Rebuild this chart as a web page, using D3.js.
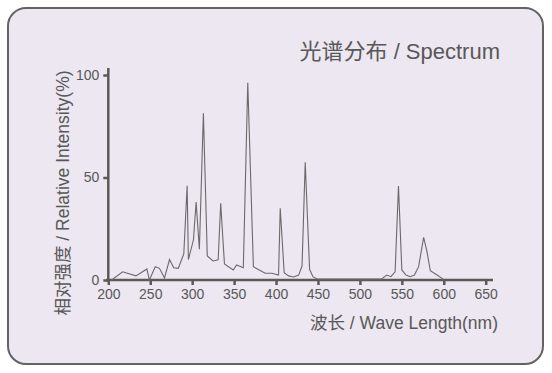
<!DOCTYPE html>
<html>
<head>
<meta charset="utf-8">
<script src="https://cdn.jsdelivr.net/npm/d3@7"></script>
<style>
  html, body { margin: 0; padding: 0; background: #ffffff; }
  svg { display: block; }
  text { font-family: "Liberation Sans", Arial, "Noto Sans CJK SC", sans-serif; fill: #585858; }
</style>
</head>
<body>
<svg id="chart" width="552" height="373"></svg>
<script>
// wavelength (nm) and relative intensity (%)
var wavelengths = [204, 217, 233, 246, 249, 256, 261, 267, 273, 278, 283.5, 290, 294, 295.5,
                   301.5, 304.7, 308.6, 313.4, 318, 325, 331, 334, 338.5, 349, 353, 361, 366.3,
                   373, 387, 395, 403, 405, 409.7, 415, 421, 427, 431, 434.8, 440, 444, 449,
                   526, 532, 537, 542, 546, 550, 555, 560, 565, 570, 576, 580, 584, 592, 598, 600];
var intensity = [0, 4, 2, 5.4, 0, 6.5, 5.7, 1, 10, 6, 5.7, 12.7, 46, 10,
                 19.5, 38, 15, 81.3, 11.7, 9.3, 9.8, 37.4, 7.8, 4.9, 7.3, 6, 96.2,
                 6.5, 3.3, 3.3, 2.4, 35, 3.6, 2, 1.5, 2.4, 6.8, 57.4, 5.2, 1.6, 0.5,
                 0.5, 2.4, 1.6, 4, 45.9, 4.9, 2.4, 1.6, 2.4, 6.5, 20.8, 13.8, 4.5, 2.4, 0.8, 0];
var xTicks = [200, 250, 300, 350, 400, 450, 500, 550, 600, 650];
var yTicks = [0, 50, 100];

var title = "光谱分布 / Spectrum";
var xTitle = "波长 / Wave Length(nm)";
var yTitle = "相对强度 / Relative Intensity(%)";

var svg = d3.select('#chart');

// panel
svg.append('rect')
    .attr('x', 8).attr('y', 8)
    .attr('width', 535).attr('height', 356)
    .attr('rx', 18).attr('ry', 18)
    .attr('fill', '#ece7f1')
    .attr('stroke', '#636363')
    .attr('stroke-width', 2);

var x = d3.scaleLinear().domain([200, 650]).range([108.3, 485.7]);
var y = d3.scaleLinear().domain([0, 100]).range([280, 75]);

var data = wavelengths.map(function(d, i) { return {nm: d, v: intensity[i]}; });

// x axis
var gx = svg.append('g')
    .attr('transform', 'translate(0,' + y(0) + ')')
    .call(d3.axisBottom(x).tickValues(xTicks).tickSize(5).tickPadding(4).tickSizeOuter(0));
gx.select('.domain').remove();
gx.append('line')
    .attr('x1', 106).attr('x2', 493)
    .attr('stroke', '#5a5a5a').attr('stroke-width', 2.5);

// y axis
var gy = svg.append('g')
    .attr('transform', 'translate(' + x(200) + ',0)')
    .call(d3.axisLeft(y).tickValues(yTicks).tickSize(5).tickPadding(4).tickSizeOuter(0));
gy.select('.domain').remove();
gy.append('line')
    .attr('y1', 68).attr('y2', 282)
    .attr('stroke', '#5a5a5a').attr('stroke-width', 2.5);

svg.selectAll('.tick line').attr('stroke', '#5a5a5a').attr('stroke-width', 2.5);
svg.selectAll('.tick text')
    .attr('font-size', 14)
    .style('fill', '#585858')
    .style('font-family', '"Liberation Sans", Arial, sans-serif');

// spectrum line
var line = d3.line()
    .x(function(d) { return x(d.nm); })
    .y(function(d) { return y(d.v); });

svg.append('path')
    .datum(data)
    .attr('d', line)
    .attr('fill', 'none')
    .attr('stroke', '#6a6a6a')
    .attr('stroke-width', 1.1)
    .attr('stroke-linejoin', 'miter');

// titles
svg.append('text')
    .attr('x', 500).attr('y', 59)
    .attr('text-anchor', 'end')
    .attr('font-size', 22)
    .text(title);

svg.append('text')
    .attr('x', 498).attr('y', 329)
    .attr('text-anchor', 'end')
    .attr('font-size', 17.5)
    .text(xTitle);

svg.append('text')
    .attr('transform', 'translate(69,193) rotate(-90)')
    .attr('text-anchor', 'middle')
    .attr('font-size', 17.5)
    .text(yTitle);
</script>
</body>
</html>
